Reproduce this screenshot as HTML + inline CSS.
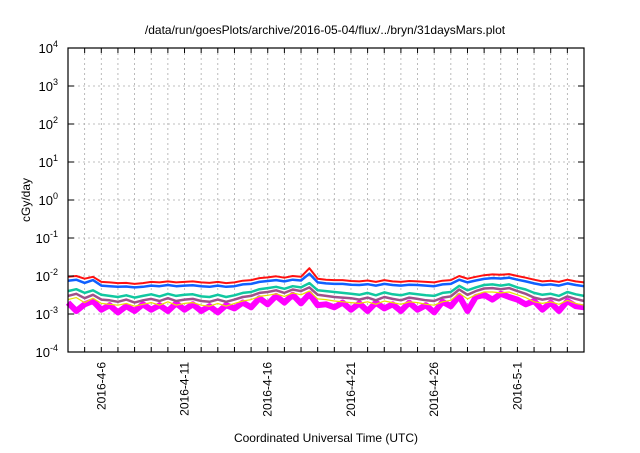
<!DOCTYPE html>
<html><head><meta charset="utf-8"><style>
body{margin:0;background:#fff}
svg{font-family:"Liberation Sans",sans-serif}
</style></head><body>
<svg id="chart" width="640" height="448" viewBox="0 0 640 448">
<text x="325" y="34" font-size="12" text-anchor="middle">/data/run/goesPlots/archive/2016-05-04/flux/../bryn/31daysMars.plot</text>
<g id="grid"></g>
<g id="series"></g>
<rect x="68" y="48" width="516" height="304" fill="none" stroke="#000" stroke-width="1.2"/>
<g id="axes"></g>
<text transform="translate(30,200) rotate(-90)" font-size="12" text-anchor="middle">cGy/day</text>
<text x="326" y="442" font-size="12" text-anchor="middle">Coordinated Universal Time (UTC)</text>
</svg>
<script>
const yExps=[-4,-3,-2,-1,0,1,2,3,4];
const xTickLabels=["2016-4-6","2016-4-11","2016-4-16","2016-4-21","2016-4-26","2016-5-1"];
const xTickDays=[2,7,12,17,22,27];
const totalDays=31;
const red=[0.0095,0.010,0.0085,0.0095,0.007,0.0068,0.0065,0.0066,0.0062,0.0065,0.007,0.0068,0.0072,0.0068,0.0070,0.0072,0.0068,0.0066,0.0070,0.0065,0.0068,0.0075,0.0078,0.0088,0.0092,0.0098,0.0090,0.0100,0.0095,0.0160,0.0085,0.0080,0.0078,0.0078,0.0074,0.0072,0.0076,0.0070,0.0078,0.0072,0.0070,0.0074,0.0072,0.0070,0.0068,0.0075,0.0078,0.0100,0.0085,0.0095,0.0105,0.0110,0.0108,0.0112,0.0100,0.0090,0.0080,0.0072,0.0075,0.0070,0.0080,0.0072,0.0068];
const blue=[0.0075,0.0080,0.0066,0.0078,0.0056,0.0054,0.0052,0.0053,0.0050,0.0052,0.0056,0.0054,0.0058,0.0054,0.0056,0.0057,0.0054,0.0052,0.0056,0.0052,0.0054,0.0060,0.0062,0.0070,0.0074,0.0078,0.0072,0.0080,0.0076,0.0115,0.0068,0.0064,0.0062,0.0062,0.0059,0.0058,0.0061,0.0056,0.0062,0.0058,0.0056,0.0059,0.0058,0.0056,0.0054,0.0060,0.0062,0.0080,0.0068,0.0076,0.0084,0.0088,0.0086,0.0090,0.0080,0.0072,0.0064,0.0058,0.0060,0.0056,0.0064,0.0058,0.0054];
const teal=[0.0040,0.0045,0.0036,0.0042,0.0032,0.0030,0.0028,0.0031,0.0027,0.0030,0.0033,0.0029,0.0034,0.0030,0.0032,0.0033,0.0029,0.0028,0.0032,0.0028,0.0031,0.0036,0.0038,0.0045,0.0048,0.0052,0.0046,0.0054,0.0050,0.0065,0.0042,0.0040,0.0038,0.0036,0.0034,0.0032,0.0036,0.0031,0.0037,0.0033,0.0031,0.0035,0.0033,0.0031,0.0030,0.0036,0.0038,0.0055,0.0042,0.0050,0.0058,0.0060,0.0056,0.0060,0.0050,0.0044,0.0036,0.0032,0.0034,0.0030,0.0038,0.0033,0.0030];
const purple=[0.0030,0.0034,0.0026,0.0032,0.0024,0.0023,0.0021,0.0024,0.0020,0.0023,0.0025,0.0022,0.0026,0.0022,0.0024,0.0025,0.0022,0.0021,0.0024,0.0021,0.0024,0.0028,0.0030,0.0036,0.0038,0.0042,0.0036,0.0044,0.0040,0.0050,0.0032,0.0030,0.0028,0.0027,0.0026,0.0024,0.0027,0.0023,0.0028,0.0025,0.0023,0.0027,0.0025,0.0023,0.0022,0.0027,0.0029,0.0044,0.0032,0.0040,0.0047,0.0048,0.0045,0.0048,0.0040,0.0034,0.0027,0.0024,0.0026,0.0023,0.0029,0.0025,0.0022];
const yellow=[0.0024,0.0027,0.0020,0.0026,0.0019,0.0018,0.0017,0.0019,0.0016,0.0018,0.0020,0.0017,0.0021,0.0017,0.0019,0.0020,0.0017,0.0016,0.0019,0.0016,0.0019,0.0022,0.0024,0.0029,0.0031,0.0034,0.0029,0.0036,0.0032,0.0040,0.0025,0.0024,0.0022,0.0021,0.0020,0.0019,0.0021,0.0018,0.0022,0.0020,0.0018,0.0021,0.0020,0.0018,0.0017,0.0021,0.0023,0.0035,0.0025,0.0032,0.0038,0.0038,0.0036,0.0038,0.0032,0.0027,0.0021,0.0019,0.0021,0.0018,0.0023,0.0019,0.0017];
const magenta=[0.0020,0.0012,0.0018,0.0022,0.0013,0.0017,0.0011,0.0016,0.0012,0.0018,0.0013,0.0017,0.0012,0.0019,0.0013,0.0018,0.0012,0.0016,0.0011,0.0017,0.0014,0.0020,0.0015,0.0026,0.0018,0.0030,0.0020,0.0032,0.0019,0.0034,0.0017,0.0018,0.0015,0.0020,0.0013,0.0019,0.0012,0.0020,0.0014,0.0018,0.0012,0.0020,0.0013,0.0017,0.0011,0.0021,0.0016,0.0030,0.0012,0.0028,0.0032,0.0024,0.0034,0.0028,0.0024,0.0018,0.0022,0.0013,0.0020,0.0012,0.0022,0.0016,0.0015];
const X0=68,X1=584,Y0=352,Y1=48;
function xs(d){return X0+(d/totalDays)*(X1-X0);}
function ys(v){const l=Math.log10(v);return Y0-(l+4)/8*(Y0-Y1);}
const NS="http://www.w3.org/2000/svg";
const grid=document.getElementById('grid'),axes=document.getElementById('axes'),ser=document.getElementById('series');
function mk(tag,attrs,parent){const e=document.createElementNS(NS,tag);for(const k in attrs)e.setAttribute(k,attrs[k]);parent.appendChild(e);return e;}
yExps.forEach(function(p){
  const y=ys(Math.pow(10,p));
  if(p>-4&&p<4){const g=mk('line',{x1:X0,x2:X1,y1:y,y2:y,stroke:'#aaa','stroke-dasharray':'2,3','stroke-width':0.8},grid);
  
  }
  const t1=mk('line',{x1:X0,x2:X0+6,y1:y,y2:y,stroke:'#000'},axes);
  
  
  const t2=mk('line',{x1:X1,x2:X1-6,y1:y,y2:y,stroke:'#000'},axes);
  
  
  const tx=mk('text',{x:58,y:y+5,'font-size':13,'text-anchor':'end'},axes);
  
  
  tx.textContent='10';
  const sp=mk('tspan',{dy:-6,'font-size':9},tx);sp.textContent=String(p);
});
for(let d=1;d<totalDays;d++){
  const x=xs(d);
  const g=mk('line',{x1:x,x2:x,y1:Y1,y2:Y0,stroke:'#aaa','stroke-dasharray':'2,3','stroke-width':0.8},grid);
  
  
  const t=mk('line',{x1:x,x2:x,y1:Y0,y2:Y0-5,stroke:'#000'},axes);
  
  
  const t2=mk('line',{x1:x,x2:x,y1:Y1,y2:Y1+5,stroke:'#000'},axes);
  
  
}
xTickLabels.forEach(function(lab,i){
  const x=xs(xTickDays[i]);
  const t=mk('text',{transform:'translate('+(x+4)+',362) rotate(-90)','font-size':12,'text-anchor':'end'},axes);
  
  
  t.textContent=lab;
});
function pts(arr){return arr.map(function(v,i){return xs(i*totalDays/(arr.length-1)).toFixed(1)+','+ys(v).toFixed(1);}).join(' ');}
const defs=[[magenta,'#ff00ff',6,'magenta-series'],[yellow,'#e8e000',1.2,'yellow-series'],[purple,'#a0508a',2.5,'purple-series'],[teal,'#10c8a0',2.5,'teal-series'],[blue,'#1060ff',2.5,'blue-series'],[red,'#ff1010',2,'red-series']];
defs.forEach(function(s){
  const l=mk('polyline',{points:pts(s[0]),fill:'none',stroke:s[1],'stroke-width':s[2],'stroke-linejoin':'round'},ser);
  
  
});
</script>
</body></html>
